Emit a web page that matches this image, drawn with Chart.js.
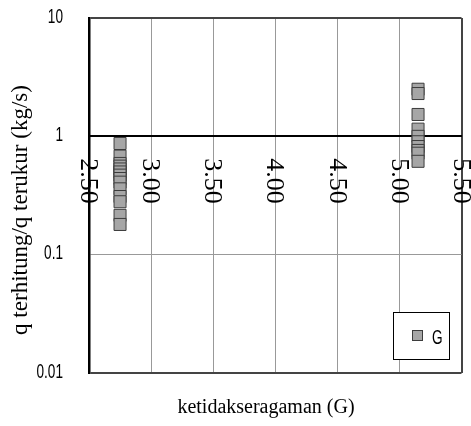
<!DOCTYPE html>
<html>
<head>
<meta charset="utf-8">
<script src="https://cdn.jsdelivr.net/npm/chart.js@4/dist/chart.umd.min.js"></script>
<style>
  html, body { margin: 0; padding: 0; background: #fff; }
  #wrap { width: 471px; height: 426px; }
</style>
</head>
<body>
<div id="wrap"><canvas id="chart" width="471" height="426"></canvas></div>
<script>
// Data
const seriesName = 'G';
const leftX = 2.75;
const leftValues = [0.87, 0.68, 0.59, 0.56, 0.53, 0.50, 0.47, 0.44, 0.41, 0.36, 0.31, 0.28, 0.215, 0.18];
const rightX = 5.15;
const rightValues = [2.5, 2.3, 1.53, 1.15, 1.0, 0.9, 0.82, 0.76, 0.72, 0.615];
const yTicks = [0.01, 0.1, 1, 10];
const yTickLabels = ['0.01', '0.1', '1', '10'];
const xTicks = [2.5, 3.0, 3.5, 4.0, 4.5, 5.0, 5.5];
const xTickLabels = ['2.50', '3.00', '3.50', '4.00', '4.50', '5.00', '5.50'];
const xTitle = 'ketidakseragaman (G)';
const yTitle = 'q terhitung/q terukur (kg/s)';

const points = leftValues.map(v => ({ x: leftX, y: v }))
  .concat(rightValues.map(v => ({ x: rightX, y: v })));

const MARKER_FILL = '#a6a6a6';
const MARKER_EDGE = '#3c3c3c';
const SERIF = '"Liberation Serif", "Times New Roman", serif';
const SANS = '"Liberation Sans", Arial, sans-serif';

// squeezed text, the original uses a narrow sans
function narrowText(ctx, text, x, y, align) {
  ctx.save();
  ctx.translate(x, y);
  ctx.scale(0.68, 1);
  ctx.textAlign = align;
  ctx.fillText(text, 0, 0);
  ctx.restore();
}

// tick labels, titles and legend box
const extras = {
  id: 'extras',
  afterDraw(chart) {
    const ctx = chart.ctx;
    const xs = chart.scales.x;
    const ys = chart.scales.y;
    const yAxis = ys.getPixelForValue(1);

    ctx.save();
    ctx.fillStyle = '#000';

    // y tick labels
    ctx.font = '20px ' + SANS;
    ctx.textBaseline = 'middle';
    yTicks.forEach((v, i) => {
      narrowText(ctx, yTickLabels[i], 63, ys.getPixelForValue(v) - 1, 'right');
    });

    // x tick labels, turned a quarter clockwise
    ctx.font = '26px ' + SERIF;
    ctx.textAlign = 'left';
    xTicks.forEach((v, i) => {
      const px = xs.getPixelForValue(v);
      ctx.save();
      ctx.translate(px, yAxis + 22);
      ctx.rotate(Math.PI / 2);
      ctx.fillText(xTickLabels[i], 0, 1);
      ctx.restore();
    });

    // axis titles
    ctx.textAlign = 'center';
    ctx.font = '20px ' + SERIF;
    ctx.fillText(xTitle, 266, 408);
    ctx.font = '23px ' + SERIF;
    ctx.save();
    ctx.translate(21, 210);
    ctx.rotate(-Math.PI / 2);
    ctx.fillText(yTitle, 0, 0);
    ctx.restore();

    // legend
    const lx = 393, ly = 312, lw = 56, lh = 47;
    ctx.fillStyle = '#fff';
    ctx.fillRect(lx, ly, lw, lh);
    ctx.strokeStyle = '#000';
    ctx.lineWidth = 1;
    ctx.strokeRect(lx + 0.5, ly + 0.5, lw, lh);
    ctx.fillStyle = MARKER_FILL;
    ctx.fillRect(412.5, 330.5, 10, 10);
    ctx.strokeStyle = MARKER_EDGE;
    ctx.strokeRect(412.5, 330.5, 10, 10);
    ctx.fillStyle = '#000';
    ctx.font = '20px ' + SANS;
    narrowText(ctx, seriesName, 432, 338, 'left');
    ctx.restore();
  }
};

new Chart(document.getElementById('chart'), {
  type: 'scatter',
  data: {
    datasets: [{
      label: seriesName,
      data: points,
      pointStyle: 'rect',
      pointRadius: 8.5,
      pointHoverRadius: 8.5,
      backgroundColor: MARKER_FILL,
      borderColor: MARKER_EDGE,
      borderWidth: 1
    }]
  },
  options: {
    responsive: false,
    animation: false,
    layout: { padding: { left: 0, right: 8, top: 18, bottom: 53 } },
    plugins: {
      legend: { display: false },
      tooltip: { enabled: false }
    },
    scales: {
      x: {
        type: 'linear',
        position: { y: 1 },
        min: 2.5,
        max: 5.5,
        afterBuildTicks: s => { s.ticks = xTicks.map(v => ({ value: v })); },
        afterFit: s => { s.height = 0; },
        ticks: { display: false },
        border: { color: '#000', width: 2 },
        grid: {
          drawTicks: false,
          color: c => (c.tick && c.tick.value === 5.5) ? '#444' : '#999',
          lineWidth: c => (c.tick && c.tick.value === 5.5) ? 2 : 1
        }
      },
      y: {
        type: 'logarithmic',
        min: 0.01,
        max: 10,
        afterBuildTicks: s => { s.ticks = yTicks.map(v => ({ value: v })); },
        afterFit: s => { s.width = 89; },
        ticks: { display: false },
        border: { color: '#000', width: 2.5 },
        grid: {
          drawTicks: false,
          color: c => {
            const v = c.tick && c.tick.value;
            if (v === 1) return '#000';
            if (v === 0.1) return '#999';
            return '#444';
          },
          lineWidth: c => {
            const v = c.tick && c.tick.value;
            return v === 0.1 ? 1 : 2;
          }
        }
      }
    }
  },
  plugins: [extras]
});
</script>
</body>
</html>
